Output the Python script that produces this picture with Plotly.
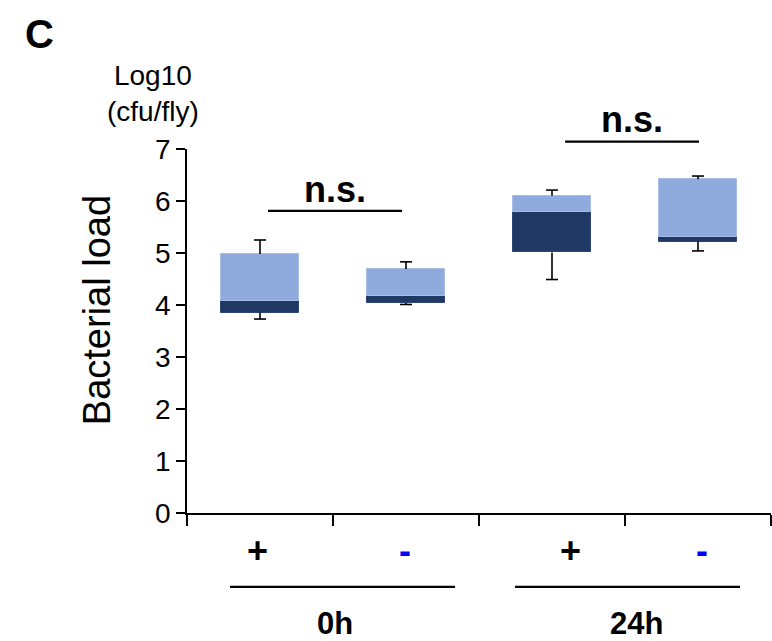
import plotly.graph_objects as go

# ---- data ----
treatment = ["+", "-", "+", "-"]
timepoints = ["0h", "24h"]
q1 = [3.85, 4.04, 5.01, 5.22]
median = [4.08, 4.17, 5.79, 5.31]
q3 = [4.98, 4.69, 6.10, 6.42]
whisker_low = [3.73, 4.01, 4.49, 5.04]
whisker_high = [5.25, 4.83, 6.21, 6.48]
sig_labels = ["n.s.", "n.s."]
y_ticks = [0, 1, 2, 3, 4, 5, 6, 7]

LIGHT = "#8FAADC"
DARK = "#203864"
FONT = "Liberation Sans, Arial, sans-serif"

xs = list(range(len(treatment)))
XMIN, XMAX = -0.5, len(treatment) - 0.5
YMIN, YMAX = 0, 7


def px(xv):
    return (xv - XMIN) / (XMAX - XMIN)


def py(yv):
    return (yv - YMIN) / (YMAX - YMIN)


fig = go.Figure()

# dark lower part (Q1 -> median)
fig.add_trace(go.Bar(
    x=xs, y=[m - a for m, a in zip(median, q1)], base=q1, width=0.53,
    marker=dict(color=DARK, line=dict(color="#2c4676", width=1)),
    hoverinfo="skip", showlegend=False))
# light upper part (median -> Q3)
fig.add_trace(go.Bar(
    x=xs, y=[b - m for b, m in zip(q3, median)], base=median, width=0.53,
    marker=dict(color=LIGHT, line=dict(color="#a9bde4", width=1)),
    hoverinfo="skip", showlegend=False))

# whiskers
cap = 0.041
wx, wy = [], []
for i in xs:
    wx += [i, i, None, i - cap, i + cap, None]
    wy += [q3[i], whisker_high[i], None, whisker_high[i], whisker_high[i], None]
    wx += [i, i, None, i - cap, i + cap, None]
    wy += [q1[i], whisker_low[i], None, whisker_low[i], whisker_low[i], None]
fig.add_trace(go.Scatter(x=wx, y=wy, mode="lines",
                         line=dict(color="black", width=1.6),
                         hoverinfo="skip", showlegend=False))

shapes = []
annotations = []


def note(**kw):
    kw.setdefault("showarrow", False)
    kw.setdefault("xanchor", "center")
    kw.setdefault("yanchor", "middle")
    annotations.append(kw)


# significance bars
sig_pairs = [(0.055, 0.973, 5.81, 6.23), (2.09, 3.007, 7.14, 7.56)]
for (a, b, yv, ty), lab in zip(sig_pairs, sig_labels):
    shapes.append(dict(type="line", xref="paper", yref="paper",
                       x0=px(a), x1=px(b), y0=py(yv), y1=py(yv),
                       line=dict(color="black", width=2.2)))
    note(x=(a + b) / 2, y=py(ty), xref="x", yref="paper",
         text="<b>" + lab + "</b>",
         font=dict(family=FONT, size=36, color="black"))

# treatment labels
treat_x = [-0.02, 0.99, 2.13, 3.03]
for tx, t in zip(treat_x, treatment):
    col = "black" if t == "+" else "#0000FF"
    note(x=tx, y=py(-0.72), xref="x", yref="paper",
         text="<b>" + t + "</b>",
         font=dict(family=FONT, size=36, color=col))

# time-point group lines and labels
groups = [(-0.205, 1.336, 0.514), (1.747, 3.288, 2.58)]
for (a, b, lx), g in zip(groups, timepoints):
    shapes.append(dict(type="line", xref="paper", yref="paper",
                       x0=px(a), x1=px(b), y0=py(-1.42), y1=py(-1.42),
                       line=dict(color="black", width=2.2)))
    note(x=lx, y=py(-2.13), xref="x", yref="paper",
         text="<b>" + g + "</b>",
         font=dict(family=FONT, size=31, color="black"))

# axis titles / panel letter
note(x=0, y=py(3.9), xref="paper", yref="paper", xshift=-90,
     text="Bacterial load", textangle=-90,
     font=dict(family=FONT, size=38, color="black"))
note(x=0, y=py(8.07), xref="paper", yref="paper", xshift=-34,
     text="Log10<br>(cfu/fly)", align="center",
     font=dict(family=FONT, size=28, color="black"))
note(x=0, y=py(9.22), xref="paper", yref="paper", xshift=-148,
     text="<b>C</b>", font=dict(family=FONT, size=40, color="black"))

fig.update_layout(
    width=772, height=641,
    margin=dict(l=187, r=1, t=149, b=128, pad=0),
    paper_bgcolor="white", plot_bgcolor="white",
    barmode="overlay", bargap=0,
    shapes=shapes, annotations=annotations,
    font=dict(family=FONT, color="black"),
    xaxis=dict(range=[XMIN, XMAX], tickvals=[i - 0.5 for i in range(len(treatment) + 1)],
               showticklabels=False, ticks="outside", ticklen=11, tickwidth=1.5,
               tickcolor="black", showline=True, linecolor="black", linewidth=1.8,
               showgrid=False, zeroline=False, fixedrange=True),
    yaxis=dict(range=[YMIN, YMAX], tickvals=y_ticks, ticks="outside", ticklen=9,
               tickwidth=1.5, tickcolor="black", showline=True, linecolor="black",
               linewidth=1.8, showgrid=False, zeroline=False,
               tickfont=dict(family=FONT, size=28, color="black"), fixedrange=True),
)

fig.write_html("out.html")
